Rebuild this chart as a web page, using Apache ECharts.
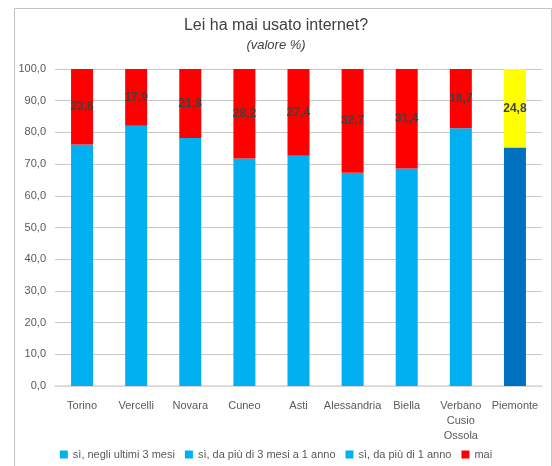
<!DOCTYPE html>
<html>
<head>
<meta charset="utf-8">
<script src="https://cdn.jsdelivr.net/npm/echarts@6/dist/echarts.min.js"></script>
<style>
  html, body { margin: 0; padding: 0; background: #fff; }
  #main { width: 552px; height: 466px; }
</style>
</head>
<body>
<div id="main"></div>
<script>
// province
var categories = ['Torino', 'Vercelli', 'Novara', 'Cuneo', 'Asti', 'Alessandria', 'Biella', 'Verbano\nCusio\nOssola', 'Piemonte'];
// la parte blu non mostra i confini tra le tre voci "sì": la metto tutta nella prima
var siUltimi3Mesi = [76.2, 82.1, 78.2, 71.8, 72.6, 67.3, 68.6, 81.3, 75.2];
var siDa3MesiA1Anno = [];
var siDaPiuDi1Anno = [];
var mai = [23.8, 17.9, 21.8, 28.2, 27.4, 32.7, 31.4, 18.7, 24.8];
var yTicks = [0, 10, 20, 30, 40, 50, 60, 70, 80, 90, 100];

var fmt = function (v) { return v.toFixed(1).replace('.', ','); };
var txt = '#595959';

var chart = echarts.init(document.getElementById('main'));

// l'ultima colonna (Piemonte) ha colori diversi
var blu = siUltimi3Mesi.map(function (v, i) {
  return i === categories.length - 1 ? { value: v, itemStyle: { color: '#0070C0' } } : v;
});
var rosso = mai.map(function (v, i) {
  return i === categories.length - 1 ? { value: v, itemStyle: { color: '#FFFF00' } } : v;
});

var option = {
  animation: false,
  textStyle: { fontFamily: 'Liberation Sans' },
  title: {
    text: 'Lei ha mai usato internet?',
    subtext: '(valore %)',
    left: 'center',
    top: 13,
    itemGap: 5,
    textStyle: { fontSize: 16, fontWeight: 'normal', color: '#404040', fontFamily: 'Liberation Sans' },
    subtextStyle: { fontSize: 13, fontStyle: 'italic', color: '#404040', fontFamily: 'Liberation Sans' }
  },
  graphic: [{
    type: 'rect',
    shape: { x: 14.5, y: 8.5, width: 537, height: 470 },
    style: { fill: 'none', stroke: '#c4c4c4', lineWidth: 1 },
    silent: true
  }],
  legend: {
    bottom: 1,
    left: 'center',
    itemWidth: 8,
    itemHeight: 8,
    itemGap: 10,
    icon: 'rect',
    textStyle: { fontSize: 11, color: txt },
    data: ['sì, negli ultimi 3 mesi', 'sì, da più di 3 mesi a 1 anno', 'sì, da più di 1 anno', 'mai']
  },
  grid: { left: 55, right: 10, top: 69, bottom: 80 },
  xAxis: {
    type: 'category',
    data: categories,
    axisTick: { show: false },
    axisLine: { lineStyle: { color: '#d9d9d9', width: 1.5 } },
    axisLabel: { fontSize: 11, color: txt, margin: 12, lineHeight: 15, interval: 0 }
  },
  yAxis: {
    type: 'value',
    min: yTicks[0],
    max: yTicks[yTicks.length - 1],
    interval: 10,
    axisLine: { show: false },
    axisTick: { show: false },
    axisLabel: { fontSize: 11, color: txt, margin: 9, formatter: function (v) { return fmt(v); } },
    splitLine: { lineStyle: { color: '#c8c8c8', width: 1 } }
  },
  series: [
    { name: 'sì, negli ultimi 3 mesi', type: 'bar', stack: 'tot', barWidth: 22, itemStyle: { color: '#00B0F0' }, data: blu },
    { name: 'sì, da più di 3 mesi a 1 anno', type: 'bar', stack: 'tot', barWidth: 22, itemStyle: { color: '#00B0F0' }, data: siDa3MesiA1Anno },
    { name: 'sì, da più di 1 anno', type: 'bar', stack: 'tot', barWidth: 22, itemStyle: { color: '#00B0F0' }, data: siDaPiuDi1Anno },
    {
      name: 'mai', type: 'bar', stack: 'tot', barWidth: 22,
      itemStyle: { color: '#FF0000' },
      label: {
        show: true,
        position: 'inside',
        color: '#404040',
        fontSize: 12,
        fontWeight: 'bold',
        fontFamily: 'Liberation Sans Narrow, Liberation Sans',
        formatter: function (p) { return fmt(p.value); }
      },
      data: rosso
    }
  ]
};

chart.setOption(option);
</script>
</body>
</html>
